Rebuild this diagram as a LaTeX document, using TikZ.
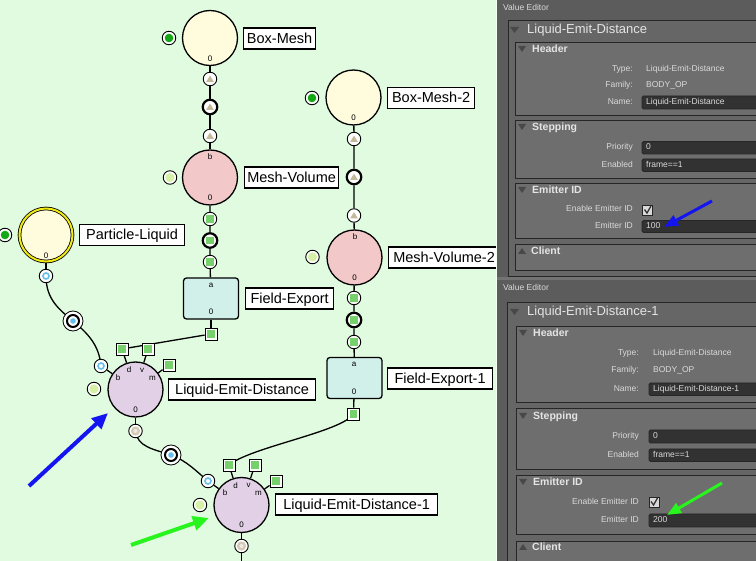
\documentclass[tikz,border=0pt]{standalone}
\usepackage{fontspec}
\setmainfont{Liberation Sans}
\usetikzlibrary{arrows.meta,shapes.geometric}
\pgfdeclarelayer{back}
\pgfdeclarelayer{bgl}
\pgfsetlayers{back,bgl,main}
\definecolor{bggreen}{RGB}{224,251,223}
\definecolor{lyellow}{RGB}{255,252,222}
\definecolor{pinkc}{RGB}{242,200,200}
\definecolor{lavc}{RGB}{226,208,230}
\definecolor{cyanc}{RGB}{210,240,234}
\definecolor{tanc}{RGB}{196,186,155}
\definecolor{sqgreen}{RGB}{118,208,108}
\definecolor{bluec}{RGB}{100,190,240}
\definecolor{paledot}{RGB}{214,240,168}
\definecolor{greendot}{RGB}{20,168,20}
\definecolor{tanout}{RGB}{212,202,182}
\definecolor{yellowc}{RGB}{240,235,20}
\definecolor{panelbg}{RGB}{92,92,92}
\definecolor{outerfill}{RGB}{102,102,102}
\definecolor{subfill}{RGB}{110,110,110}
\definecolor{boxline}{RGB}{38,38,38}
\definecolor{fieldc}{RGB}{50,50,50}
\definecolor{ptext}{RGB}{228,228,228}
\definecolor{vtext}{RGB}{218,218,218}
\definecolor{trig}{RGB}{72,72,72}
\definecolor{arrblue}{RGB}{20,20,240}
\definecolor{arrgreen}{RGB}{40,245,30}
\tikzset{
 conn/.style={draw=black, line width=1.3pt},
 bigc/.style={circle, draw=black, line width=1.3pt, minimum size=55pt, inner sep=0pt},
 febox/.style={rectangle, rounded corners=3pt, draw=black, line width=1.3pt, fill=cyanc, minimum width=55pt, minimum height=41pt, inner sep=0pt},
 lbl/.style={rectangle, draw=black, line width=1.2pt, fill=white, anchor=west, minimum height=21pt, inner sep=0pt, text height=12pt, text depth=2pt, font=\fontsize{14.5}{14.5}\selectfont},
 smalltxt/.style={font=\fontsize{8}{8}\selectfont, inner sep=0pt},
 pcirc/.style={circle, draw=black, line width=0.9pt, fill=white, minimum size=13.5pt, inner sep=0pt},
 pthick/.style={pcirc, line width=2.2pt, minimum size=14.5pt},
 ptri/.style={path picture={\fill[tanc] ([yshift=3.4pt]path picture bounding box.center) -- ([xshift=-3.9pt,yshift=-3pt]path picture bounding box.center) -- ([xshift=3.9pt,yshift=-3pt]path picture bounding box.center) -- cycle;}},
 psqin/.style={path picture={\fill[sqgreen] ([xshift=-3.6pt,yshift=-3.6pt]path picture bounding box.center) rectangle ([xshift=3.6pt,yshift=3.6pt]path picture bounding box.center);}},
 pblue/.style={path picture={\draw[bluec, line width=1.6pt] (path picture bounding box.center) circle (3pt);}},
 pgreen/.style={path picture={\fill[greendot] (path picture bounding box.center) circle (4.3pt);}},
 ppale/.style={path picture={\fill[paledot] (path picture bounding box.center) circle (4.6pt);}},
 ptan/.style={path picture={\fill[tanout] (path picture bounding box.center) circle (4.6pt); \fill[tanout!40!white] (path picture bounding box.center) circle (2pt);}},
 sqport/.style={rectangle, draw=black, line width=0.9pt, fill=white, minimum size=12pt, inner sep=0pt, psqin},
 joint/.style={circle, draw=black, line width=0.8pt, fill=white, minimum size=20pt, inner sep=0pt, path picture={\draw[black, line width=2pt] (path picture bounding box.center) circle (6pt); \fill[bluec] (path picture bounding box.center) circle (2.8pt);}},
 annarrow/.style={line width=4pt, -{Triangle[length=16pt,width=14pt]}},
 annarrowsm/.style={line width=3pt, -{Triangle[length=14pt,width=11pt]}},
 vet/.style={anchor=west, text=vtext, font=\fontsize{8.5}{8.5}\selectfont, inner sep=0pt, text height=6pt, text depth=1.8pt},
 ptitle/.style={anchor=west, text=ptext, font=\fontsize{13}{13}\selectfont, inner sep=0pt, text height=9.5pt, text depth=2.5pt},
 sect/.style={anchor=west, text=ptext, font=\bfseries\fontsize{10.5}{10.5}\selectfont, inner sep=0pt, text height=7.6pt, text depth=2pt},
 flab/.style={anchor=east, text=vtext, font=\fontsize{8.5}{8.5}\selectfont, inner sep=0pt, text height=6pt, text depth=1.8pt},
 fval/.style={anchor=west, text=vtext, font=\fontsize{8.5}{8.5}\selectfont, inner sep=0pt, text height=6pt, text depth=1.8pt},
 obox/.style={draw=boxline, fill=outerfill, line width=1pt},
 sbox/.style={draw=boxline, fill=subfill, line width=1pt},
 fbox/.style={draw=boxline, fill=fieldc, line width=0.8pt, rounded corners=1.5pt},
 cbox/.style={draw=boxline, fill=white!85!black, line width=0.8pt}
}
\begin{document}
\begin{tikzpicture}[x=1pt,y=-1pt]
\useasboundingbox (0,0) rectangle (756,561);
\begin{pgfonlayer}{back}
\fill[bggreen] (0,0) rectangle (497,561);
\end{pgfonlayer}

% ---------- Box-Mesh column ----------
\node[bigc, fill=lyellow] (bm) at (210,38) {};
\node[smalltxt] (bm0) at (210,59) {0};
\node[pcirc, pgreen] (bmg) at (169,38) {};
\node[lbl, minimum width=72pt] (bml) at (243,38.5) {Box-Mesh};
\node[pcirc, ptri] (bmp1) at (210,79) {};
\node[pthick, ptri] (bmp2) at (210,107) {};
\node[pcirc, ptri] (bmp3) at (210,136) {};

\node[bigc, fill=pinkc] (mv) at (210,177.5) {};
\node[smalltxt] (mvb) at (210,157) {b};
\node[smalltxt] (mv0) at (210,198) {0};
\node[pcirc, ppale] (mvp) at (170,177.5) {};
\node[lbl, minimum width=94pt] (mvl) at (244,177.5) {Mesh-Volume};
\node[pcirc, psqin] (mvp1) at (210,219) {};
\node[pthick, psqin] (mvp2) at (210,240.5) {};
\node[pcirc, psqin] (mvp3) at (210,262) {};

\node[febox] (fe) at (211,298.5) {};
\node[smalltxt] (fea) at (211,285) {a};
\node[smalltxt] (fe0) at (211,312) {0};
\node[lbl, minimum width=88pt] (fel) at (245,298.5) {Field-Export};
\node[sqport] (feo) at (211,334) {};

% ---------- Particle-Liquid ----------
\node[bigc, fill=lyellow, draw=black, line width=0.8pt, double=yellowc, double distance=2pt, minimum size=53pt] (pl) at (46,235) {};
\node[smalltxt] (pl0) at (46,256) {0};
\node[pcirc, pgreen] (plg) at (5,235) {};
\node[lbl, minimum width=105pt] (pll) at (79,235) {Particle-Liquid};
\node[pcirc, pblue] (plo) at (46,276) {};
\node[joint] (m1) at (73,321) {};

% ---------- Liquid-Emit-Distance ----------
\node[bigc, fill=lavc] (led) at (135.5,389.5) {};
\node[smalltxt] (ledbt) at (118,378) {b};
\node[smalltxt] (leddt) at (129,370) {d};
\node[smalltxt] (ledvt) at (142,370) {v};
\node[smalltxt] (ledmt) at (152.5,378) {m};
\node[smalltxt] (led0) at (135.5,410) {0};
\node[pcirc, pblue] (ledb) at (101,366) {};
\node[sqport] (ledd) at (122,349) {};
\node[sqport] (ledv) at (148,349) {};
\node[sqport] (ledm) at (169,365) {};
\node[pcirc, ppale] (ledp) at (94,389) {};
\node[pcirc, ptan] (ledo) at (135.5,431) {};
\node[lbl, minimum width=147pt] (ledl) at (168,389.5) {Liquid-Emit-Distance};
\node[joint] (m2) at (171,455) {};

% ---------- Liquid-Emit-Distance-1 ----------
\node[bigc, fill=lavc] (led1) at (241.5,505) {};
\node[smalltxt] (led1bt) at (225,493) {b};
\node[smalltxt] (led1dt) at (235.5,485.5) {d};
\node[smalltxt] (led1vt) at (248.5,485.5) {v};
\node[smalltxt] (led1mt) at (258.5,493.5) {m};
\node[smalltxt] (led10) at (241.5,525) {0};
\node[pcirc, pblue] (led1b) at (208,481) {};
\node[sqport] (led1d) at (229,465) {};
\node[sqport] (led1v) at (255,465) {};
\node[sqport] (led1m) at (276,481) {};
\node[pcirc, ppale] (led1p) at (200,505) {};
\node[pcirc, ptan] (led1o) at (241.5,546) {};
\node[lbl, minimum width=162pt] (led1l) at (275,504.5) {Liquid-Emit-Distance-1};
\coordinate (bot) at (241.5,565);

% ---------- Box-Mesh-2 column ----------
\node[bigc, fill=lyellow] (bm2) at (353.5,97.5) {};
\node[smalltxt] (bm20) at (353.5,118) {0};
\node[pcirc, pgreen] (bm2g) at (312,98) {};
\node[lbl, minimum width=87pt] (bm2l) at (387,98) {Box-Mesh-2};
\node[pcirc, ptri] (bm2p1) at (354,139) {};
\node[pthick, ptri] (bm2p2) at (354,177) {};
\node[pcirc, ptri] (bm2p3) at (354,215.5) {};

\node[bigc, fill=pinkc] (mv2) at (354.5,257.5) {};
\node[smalltxt] (mv2b) at (355,237) {b};
\node[smalltxt] (mv20) at (354.5,278) {0};
\node[pcirc, ppale] (mv2p) at (312.5,257) {};
\node[lbl, minimum width=112pt] (mv2l) at (387.5,257.5) {Mesh-Volume-2};
\node[pcirc, psqin] (mv2p1) at (354,298) {};
\node[pthick, psqin] (mv2p2) at (354,320) {};
\node[pcirc, psqin] (mv2p3) at (354,342) {};

\node[febox] (fe1) at (354.5,378) {};
\node[smalltxt] (fe1a) at (354,364) {a};
\node[smalltxt] (fe10) at (354,392) {0};
\node[lbl, minimum width=105pt] (fe1l) at (387,378.5) {Field-Export-1};
\node[sqport] (fe1o) at (353.5,414) {};

% ---------- connectors ----------
\begin{pgfonlayer}{bgl}
\draw[conn] (bm) -- (bmp1) -- (bmp2) -- (bmp3) -- (mv);
\draw[conn] (mv) -- (mvp1) -- (mvp2) -- (mvp3) -- (fe);
\draw[conn] (fe) -- (feo);
\draw[conn] (feo) -- (ledd);
\draw[conn] (ledd) -- (led);
\draw[conn] (ledv) -- (led);
\draw[conn] (ledm) -- (led);
\draw[conn] (ledb) -- (led);
\draw[conn] (led) -- (ledo);
\draw[conn] (pl) -- (plo);
\draw[conn] (plo.center) .. controls +(0,24) and +(-13,-11) .. (m1.center) .. controls +(14,12) and +(-2,-22) .. (ledb.center);
\draw[conn] (ledo.center) .. controls +(2,16) and +(-18,-6) .. (m2.center) .. controls +(16,6) and +(-12,-10) .. (led1b.center);
\draw[conn] (bm2) -- (bm2p1) -- (bm2p2) -- (bm2p3) -- (mv2);
\draw[conn] (mv2) -- (mv2p1) -- (mv2p2) -- (mv2p3) -- (fe1);
\draw[conn] (fe1) -- (fe1o);
\draw[conn] (fe1o.center) .. controls +(-12,18) and +(22,-18) .. (led1d.center);
\draw[conn] (led1d) -- (led1);
\draw[conn] (led1v) -- (led1);
\draw[conn] (led1m) -- (led1);
\draw[conn] (led1b) -- (led1);
\draw[conn] (led1) -- (led1o);
\draw[conn] (led1o) -- (bot);
\end{pgfonlayer}

% ---------- annotation arrows (left) ----------
\coordinate (ba1) at (29,486);
\coordinate (ba2) at (108,413);
\draw[annarrow, arrblue] (ba1) -- (ba2);
\coordinate (ga1) at (131,545);
\coordinate (ga2) at (209,518);
\draw[annarrow, arrgreen] (ga1) -- (ga2);

% ---------- right panel ----------
\fill[panelbg] (497,0) rectangle (756,561);
\fill[white!70!bggreen] (495.5,0) rectangle (497,561);
\fill[black!55] (497,277) rectangle (756,280);

% top value editor
\node[vet] (ve1) at (503,8) {Value Editor};
\draw[obox] (508,21) rectangle (760,277);
\fill[trig] (510,27) -- (519,27) -- (514.5,33) -- cycle;
\node[ptitle] (t1) at (527,30.5) {Liquid-Emit-Distance};
\draw[sbox] (515,43) rectangle (760,116);
\fill[trig] (518,46) -- (526,46) -- (522,52) -- cycle;
\node[sect] (s1a) at (532,49.5) {Header};
\node[flab] (l1a) at (633,69) {Type:};
\node[fval] (v1a) at (646,69) {Liquid-Emit-Distance};
\node[flab] (l1b) at (633,85.5) {Family:};
\node[fval] (v1b) at (646,85.5) {BODY\_OP};
\node[flab] (l1c) at (633,102.5) {Name:};
\draw[fbox] (642,96) rectangle (760,109);
\node[fval] (v1c) at (646,102.5) {Liquid-Emit-Distance};
\draw[sbox] (515,121) rectangle (760,179);
\fill[trig] (518,124) -- (526,124) -- (522,130) -- cycle;
\node[sect] (s1b) at (532,127.5) {Stepping};
\node[flab] (l1d) at (633,147.5) {Priority};
\draw[fbox] (642,141.5) rectangle (760,154);
\node[fval] (v1d) at (646,147.5) {0};
\node[flab] (l1e) at (633,165) {Enabled};
\draw[fbox] (642,159) rectangle (760,171.5);
\node[fval] (v1e) at (646,165) {frame==1};
\draw[sbox] (515,184) rectangle (760,239);
\fill[trig] (518,187) -- (526,187) -- (522,193) -- cycle;
\node[sect] (s1c) at (532,190.5) {Emitter ID};
\node[flab] (l1f) at (633,209.5) {Enable Emitter ID};
\draw[cbox] (642.5,205) rectangle (652.5,215);
\draw[black!80, line width=1.3pt] (644.5,209.5) -- (647,213) -- (651,206);
\node[flab] (l1g) at (633,226.5) {Emitter ID};
\draw[fbox] (642,220.5) rectangle (760,232.5);
\node[fval] (v1g) at (646,226.5) {100};
\draw[sbox] (515,245) rectangle (760,271);
\fill[trig] (518,254) -- (526,254) -- (522,248) -- cycle;
\node[sect] (s1d) at (531,251.5) {Client};

% bottom value editor
\node[vet] (ve2) at (503,288) {Value Editor};
\draw[obox] (507,303) rectangle (760,575);
\fill[trig] (510,309) -- (519,309) -- (514.5,315) -- cycle;
\node[ptitle] (t2) at (527,312.5) {Liquid-Emit-Distance-1};
\draw[sbox] (516,327) rectangle (760,403);
\fill[trig] (519,330) -- (527,330) -- (523,336) -- cycle;
\node[sect] (s2a) at (533,333.5) {Header};
\node[flab] (l2a) at (639,353.5) {Type:};
\node[fval] (v2a) at (653,353.5) {Liquid-Emit-Distance};
\node[flab] (l2b) at (639,370.5) {Family:};
\node[fval] (v2b) at (653,370.5) {BODY\_OP};
\node[flab] (l2c) at (639,389) {Name:};
\draw[fbox] (649,383) rectangle (760,395.5);
\node[fval] (v2c) at (653,389) {Liquid-Emit-Distance-1};
\draw[sbox] (516,409) rectangle (760,470);
\fill[trig] (519,413) -- (527,413) -- (523,419) -- cycle;
\node[sect] (s2b) at (533,416.5) {Stepping};
\node[flab] (l2d) at (639,436.5) {Priority};
\draw[fbox] (649,430) rectangle (760,443);
\node[fval] (v2d) at (653,436.5) {0};
\node[flab] (l2e) at (639,455) {Enabled};
\draw[fbox] (649,449) rectangle (760,461.5);
\node[fval] (v2e) at (653,455) {frame==1};
\draw[sbox] (516,476) rectangle (760,535);
\fill[trig] (519,479) -- (527,479) -- (523,485) -- cycle;
\node[sect] (s2c) at (533,482.5) {Emitter ID};
\node[flab] (l2f) at (639,502) {Enable Emitter ID};
\draw[cbox] (649,497) rectangle (659,507);
\draw[black!80, line width=1.3pt] (651,501.5) -- (653.5,505) -- (657.5,498);
\node[flab] (l2g) at (639,520.5) {Emitter ID};
\draw[fbox] (649,514) rectangle (760,527);
\node[fval] (v2g) at (653,520.5) {200};
\draw[sbox] (516,542) rectangle (760,575);
\fill[trig] (519,550) -- (527,550) -- (523,544) -- cycle;
\node[sect] (s2d) at (532,547.5) {Client};

% right panel arrows
\coordinate (bb1) at (712,201);
\coordinate (bb2) at (664,227);
\draw[annarrowsm, arrblue] (bb1) -- (bb2);
\coordinate (gb1) at (722,483);
\coordinate (gb2) at (667,515);
\draw[annarrowsm, arrgreen] (gb1) -- (gb2);
\end{tikzpicture}
\end{document}
